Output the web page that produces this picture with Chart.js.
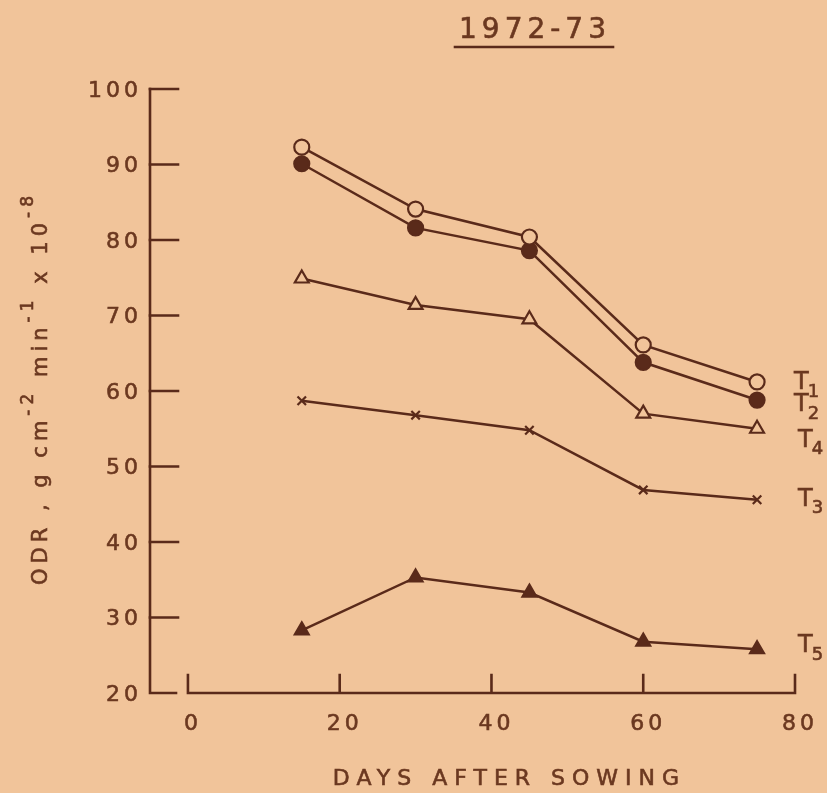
<!DOCTYPE html>
<html>
<head>
<meta charset="utf-8">
<script src="https://cdn.jsdelivr.net/npm/chart.js@4/dist/chart.umd.min.js"></script>
<style>
  html, body { margin: 0; padding: 0; background: #f1c49a; }
  #wrap { width: 827px; height: 793px; position: relative; }
</style>
</head>
<body>
<div id="wrap"><canvas id="c"></canvas></div>
<script>
// ---- data ----
const days = [15, 30, 45, 60, 75];
const T1 = [92.3, 84.1, 80.4, 66.1, 61.2];
const T2 = [90.1, 81.6, 78.6, 63.8, 58.8];
const T4 = [74.9, 71.4, 69.5, 57.0, 55.0];
const T3 = [58.7, 56.8, 54.8, 46.9, 45.6];
const T5 = [28.3, 35.3, 33.3, 26.8, 25.8];
const seriesNames = ['T1', 'T2', 'T4', 'T3', 'T5'];
const xTicks = [0, 20, 40, 60, 80];
const yTicks = [20, 30, 40, 50, 60, 70, 80, 90, 100];
const titleText = '1972-73';
const xTitle = 'DAYS AFTER SOWING';
// y title runs: [text, isSuperscript]
const yTitleRuns = [['ODR , g cm', false], ['-2', true], [' min', false], ['-1', true], [' x 10', false], ['-8', true]];

// ---- styles ----
const BG = '#f1c49a';
const INK = '#5a2a1a';
const TXT = '#6b3820';
const FONT = "'DejaVu Sans', sans-serif";
const labelNudge = [1, 5, 12, 0, -3];

const pts = arr => days.map((d, i) => ({ x: d, y: arr[i] }));

const common = { borderColor: INK, borderWidth: 2.5, pointBorderColor: INK, pointBorderWidth: 2.2, showLine: true, clip: false };
const datasets = [
  Object.assign({}, common, { label: seriesNames[0], data: pts(T1), pointStyle: 'circle', pointRadius: 7.5, pointBackgroundColor: BG }),
  Object.assign({}, common, { label: seriesNames[1], data: pts(T2), pointStyle: 'circle', pointRadius: 7.5, pointBackgroundColor: INK }),
  Object.assign({}, common, { label: seriesNames[2], data: pts(T4), pointStyle: 'triangle', pointRadius: 8, pointBackgroundColor: BG }),
  Object.assign({}, common, { label: seriesNames[3], data: pts(T3), pointStyle: 'crossRot', pointRadius: 6, pointBackgroundColor: INK }),
  Object.assign({}, common, { label: seriesNames[4], data: pts(T5), pointStyle: 'triangle', pointRadius: 8, pointBackgroundColor: INK }),
];

function txt(ctx, s, x, y) {
  ctx.fillText(s, x, y);
  ctx.strokeText(s, x, y);
}

const decor = {
  id: 'decor',
  beforeDraw(chart) {
    const ctx = chart.ctx;
    ctx.save();
    ctx.fillStyle = BG;
    ctx.fillRect(0, 0, chart.width, chart.height);
    ctx.restore();
  },
  beforeDatasetsDraw(chart) {
    const ctx = chart.ctx, xs = chart.scales.x, ys = chart.scales.y;
    const x0 = xs.getPixelForValue(xs.min);
    const yb = ys.getPixelForValue(yTicks[0]);
    const yt = ys.getPixelForValue(yTicks[yTicks.length - 1]);
    ctx.save();
    ctx.strokeStyle = INK;
    ctx.lineWidth = 2.6;
    ctx.lineCap = 'square';
    // y axis with stub
    ctx.beginPath();
    ctx.moveTo(x0, yt); ctx.lineTo(x0, yb); ctx.lineTo(x0 + 26, yb);
    ctx.stroke();
    // y ticks (inward)
    ctx.beginPath();
    yTicks.slice(1).forEach(v => { const p = ys.getPixelForValue(v); ctx.moveTo(x0, p); ctx.lineTo(x0 + 28, p); });
    ctx.stroke();
    // x axis
    const xa = xs.getPixelForValue(xTicks[0]), xb = xs.getPixelForValue(xTicks[xTicks.length - 1]);
    ctx.beginPath();
    ctx.moveTo(xa, yb); ctx.lineTo(xb, yb);
    xTicks.forEach(v => { const p = xs.getPixelForValue(v); ctx.moveTo(p, yb); ctx.lineTo(p, yb - 18); });
    ctx.stroke();

    // tick labels
    ctx.fillStyle = TXT;
    ctx.strokeStyle = TXT;
    ctx.lineWidth = 0.6;
    ctx.font = '22px ' + FONT;
    ctx.letterSpacing = '4px';
    ctx.textAlign = 'right';
    ctx.textBaseline = 'middle';
    yTicks.forEach(v => txt(ctx, String(v), x0 - 8, ys.getPixelForValue(v) + 2));
    ctx.textAlign = 'center';
    xTicks.forEach(v => txt(ctx, String(v), xs.getPixelForValue(v) + 5, yb + 31));

    // x title
    ctx.font = '22px ' + FONT;
    ctx.letterSpacing = '7px';
    txt(ctx, xTitle, (xa + xb) / 2 + 18, yb + 86);

    // title with underline
    ctx.font = '28px ' + FONT;
    ctx.letterSpacing = '5px';
    ctx.textBaseline = 'alphabetic';
    const tx = 535;
    txt(ctx, titleText, tx, 38);
    const tw = ctx.measureText(titleText).width;
    ctx.beginPath();
    ctx.strokeStyle = INK;
    ctx.lineWidth = 2.6;
    ctx.moveTo(tx - tw / 2 - 4, 47); ctx.lineTo(tx + tw / 2 + 2, 47);
    ctx.stroke();
    ctx.strokeStyle = TXT;
    ctx.lineWidth = 0.6;

    // y title rotated
    ctx.save();
    ctx.translate(47, 388);
    ctx.rotate(-Math.PI / 2);
    ctx.textAlign = 'left';
    ctx.textBaseline = 'alphabetic';
    let total = 0;
    const mFont = '21px ' + FONT, sFont = '17px ' + FONT;
    ctx.letterSpacing = '5px';
    yTitleRuns.forEach(([t, s]) => { ctx.font = s ? sFont : mFont; total += ctx.measureText(t).width; });
    let cx = -total / 2;
    yTitleRuns.forEach(([t, s]) => {
      ctx.font = s ? sFont : mFont;
      txt(ctx, t, cx, s ? -14 : 0);
      cx += ctx.measureText(t).width;
    });
    ctx.restore();
    ctx.restore();
  },
  afterDraw(chart) {
    const ctx = chart.ctx, xs = chart.scales.x, ys = chart.scales.y;
    ctx.save();
    ctx.fillStyle = TXT;
    ctx.strokeStyle = TXT;
    ctx.lineWidth = 0.6;
    ctx.letterSpacing = '0px';
    ctx.textBaseline = 'middle';
    ctx.textAlign = 'left';
    chart.data.datasets.forEach((ds, i) => {
      const last = ds.data[ds.data.length - 1];
      const px = xs.getPixelForValue(xTicks[xTicks.length - 1]) - 1 + (i >= 2 ? 4 : 0);
      const py = ys.getPixelForValue(last.y) + labelNudge[i];
      const name = ds.label;
      ctx.font = '24px ' + FONT;
      txt(ctx, name[0], px, py);
      const w = ctx.measureText(name[0]).width;
      ctx.font = '18px ' + FONT;
      txt(ctx, name.slice(1), px + w - 1, py + 9);
    });
    ctx.restore();
  }
};

new Chart(document.getElementById('c'), {
  type: 'scatter',
  data: { datasets },
  options: {
    responsive: true,
    maintainAspectRatio: false,
    animation: false,
    layout: { padding: { left: 150, right: 32, top: 89, bottom: 100 } },
    scales: {
      x: { type: 'linear', min: -5, max: 80, display: false },
      y: { type: 'linear', min: 20, max: 100, display: false }
    },
    plugins: { legend: { display: false }, tooltip: { enabled: false }, title: { display: false } },
    elements: { line: { tension: 0 } }
  },
  plugins: [decor]
});
</script>
</body>
</html>
